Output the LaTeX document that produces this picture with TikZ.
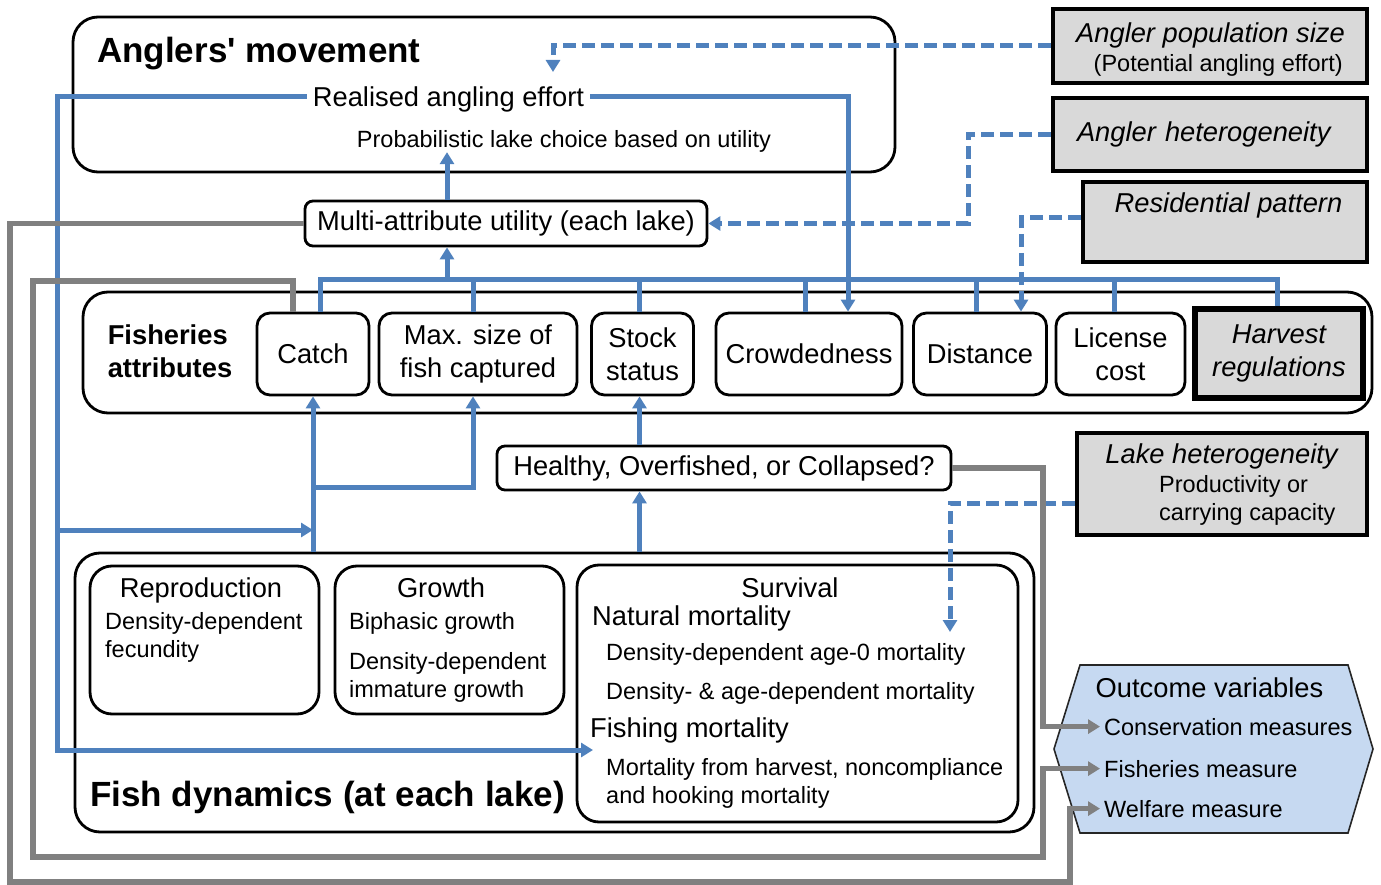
\documentclass[tikz,border=0pt]{standalone}
\usepackage{fontspec}
\setmainfont{Liberation Sans}
\usetikzlibrary{arrows.meta}

\definecolor{flowblue}{HTML}{4F81BD}
\definecolor{linegray}{HTML}{808080}
\definecolor{drivergray}{HTML}{D9D9D9}
\definecolor{outcomeblue}{HTML}{C6D9F1}

\newcommand{\txtbig}{\fontsize{35}{40}\selectfont\bfseries}
\newcommand{\txtmid}{\fontsize{27.3}{32.5}\selectfont}
\newcommand{\txtsmall}{\fontsize{23.5}{28}\selectfont}

\tikzset{
  mainframe/.style={draw, line width=2.8pt, rounded corners=25pt},
  procbox/.style={draw, line width=2.8pt, rounded corners=22pt},
  attrbox/.style={draw, line width=2.8pt, rounded corners=13pt, align=center,
    font=\txtmid, minimum height=82pt, inner sep=0pt},
  smallbox/.style={draw, line width=2.8pt, rounded corners=8pt, font=\txtmid, inner sep=0pt},
  driverbox/.style={draw, line width=4pt, fill=drivergray, align=center,
    font=\txtmid\itshape, inner sep=0pt},
  textlbl/.style={inner sep=0pt},
  blueline/.style={draw=flowblue, line width=5pt},
  blueflow/.style={blueline, -{Triangle[length=12pt,width=14pt]}},
  dashflow/.style={blueflow, dash pattern=on 13pt off 6pt},
  grayflow/.style={draw=linegray, line width=5.5pt, -{Triangle[length=12pt,width=14pt]}},
  outcomeshape/.style={draw=black!85, line width=1.6pt, fill=outcomeblue}
}

\begin{document}
\begin{tikzpicture}[x=1pt, y=-1pt]
\useasboundingbox (0,0) rectangle (1381,885);

%% Anglers' movement
\node[mainframe, minimum width=822pt, minimum height=155pt] (anglers) at (484,94.5) {};
\node[textlbl, font=\txtbig, anchor=base west] (anglerstitle) at (97,63) {Anglers\textquotesingle{} movement};
\node[textlbl, font=\txtmid, inner xsep=6pt, text depth=0pt] (effort) at (448.5,97) {Realised angling effort};
\node[textlbl, font=\txtsmall] (choice) at (564,141) {Probabilistic lake choice based on utility};

% utility of each lake
\node[smallbox, minimum width=402pt, minimum height=45pt] (utility) at (506,223.5) {Multi-attribute utility (each lake)};

%% Fisheries attributes
\node[mainframe, minimum width=1289pt, minimum height=121pt] (fishattr) at (727.5,352.5) {};
\node[textlbl, font=\txtmid\bfseries, align=left] (fishattrtitle) at (170,351) {Fisheries\\attributes};
\node[attrbox, minimum width=112pt] (catch) at (313,354) {Catch};
\node[attrbox, minimum width=198pt] (maxsize) at (478,354) {Max. size of\\fish captured};
\node[attrbox, minimum width=102pt] (stock) at (642.5,354) {Stock\\status};
\node[attrbox, minimum width=186pt] (crowd) at (809,354) {Crowdedness};
\node[attrbox, minimum width=133pt] (distance) at (980,354) {Distance};
\node[attrbox, minimum width=129pt] (license) at (1120.5,354) {License\\cost};
\node[driverbox, line width=5.5pt, minimum width=168pt, minimum height=89pt] (harvest) at (1279,353.5) {Harvest\\regulations};

% stock status
\node[smallbox, minimum width=454pt, minimum height=44pt] (status) at (724,468) {Healthy, Overfished, or Collapsed?};

%% External drivers
\node[driverbox, minimum width=314pt, minimum height=74pt] (angpop) at (1210,46) {};
\node[textlbl, font=\txtmid\itshape, anchor=base east] (angpoptxt) at (1345,43) {Angler population size};
\node[textlbl, font=\txtsmall, anchor=base east] (angpopsub) at (1343,72) {(Potential angling effort)};
\node[driverbox, minimum width=314pt, minimum height=73pt, text width=266pt, align=left] (anghet) at (1210,134.5) {Angler heterogeneity};
\node[driverbox, minimum width=284pt, minimum height=80pt] (respat) at (1225,222) {};
\node[textlbl, font=\txtmid\itshape, anchor=base] (respattxt) at (1228.5,213) {Residential pattern};
\node[driverbox, minimum width=290pt, minimum height=102pt] (lakehet) at (1222,484) {};
\node[textlbl, font=\txtmid\itshape, anchor=base] (lakehettxt) at (1221.5,463) {Lake heterogeneity};
\node[textlbl, font=\txtsmall, anchor=base west] (lakehetsub) at (1159,492) {Productivity or};
\node[textlbl, font=\txtsmall, anchor=base west] (lakehetsubb) at (1159,520) {carrying capacity};

%% Fish dynamics
\node[mainframe, minimum width=959pt, minimum height=279pt] (fishdyn) at (554.5,692.5) {};
\node[textlbl, font=\txtbig, anchor=base west] (fishdyntitle) at (90,806) {Fish dynamics (at each lake)};

% reproduction
\node[procbox, minimum width=229pt, minimum height=148pt] (repro) at (204.5,640) {};
\node[textlbl, font=\txtmid, anchor=base] (reprotitle) at (201,597) {Reproduction};
\node[textlbl, font=\txtsmall, anchor=base west] (reproa) at (105,629) {Density-dependent};
\node[textlbl, font=\txtsmall, anchor=base west] (reprob) at (105,657) {fecundity};

% growth
\node[procbox, minimum width=229pt, minimum height=148pt] (growth) at (449.5,640) {};
\node[textlbl, font=\txtmid, anchor=base] (growthtitle) at (441,597) {Growth};
\node[textlbl, font=\txtsmall, anchor=base west] (growtha) at (349,629) {Biphasic growth};
\node[textlbl, font=\txtsmall, anchor=base west] (growthb) at (349,669) {Density-dependent};
\node[textlbl, font=\txtsmall, anchor=base west] (growthc) at (349,697) {immature growth};

% survival
\node[procbox, minimum width=441pt, minimum height=257pt] (survival) at (797.5,693.5) {};
\node[textlbl, font=\txtmid, anchor=base] (survtitle) at (790,597) {Survival};
\node[textlbl, font=\txtmid, anchor=base west] (natmort) at (592,625) {Natural mortality};
\node[textlbl, font=\txtsmall, anchor=base west] (natmorta) at (606,660) {Density-dependent age-0 mortality};
\node[textlbl, font=\txtsmall, anchor=base west] (natmortb) at (606,699) {Density- \& age-dependent mortality};
\node[textlbl, font=\txtmid, anchor=base west] (fishmort) at (590,737) {Fishing mortality};
\node[textlbl, font=\txtsmall, anchor=base west] (fishmorta) at (606,775) {Mortality from harvest, noncompliance};
\node[textlbl, font=\txtsmall, anchor=base west] (fishmortb) at (606,803) {and hooking mortality};

%% Outcome variables
\draw[outcomeshape] (1080,665) -- (1348,665) -- (1373,749) -- (1348,833) -- (1080,833) -- (1054,749) -- cycle;
\node[textlbl, font=\txtmid, anchor=base] (outtitle) at (1209.5,697) {Outcome variables};
\node[textlbl, font=\txtsmall, anchor=base west, inner xsep=4pt] (cons) at (1100,735) {Conservation measures};
\node[textlbl, font=\txtsmall, anchor=base west, inner xsep=4pt] (fisheries) at (1100,777) {Fisheries measure};
\node[textlbl, font=\txtsmall, anchor=base west, inner xsep=4pt] (welfare) at (1100,817) {Welfare measure};

%% Connectors
\coordinate (bus) at (447,280);
\coordinate (effortin) at (553,72);
\coordinate (hetrail) at (968,0);
\coordinate (lakein) at (950,632);
\coordinate (effortrail) at (57,530);
\coordinate (railfoot) at (57,750);
\coordinate (fishin) at (593,750);
\coordinate (catchfork) at (313,487);
\coordinate (consrail) at (1043,0);
\coordinate (innerrail) at (33,281);
\coordinate (innerfoot) at (1043,857);
\coordinate (outerfoot) at (10,882);
\coordinate (welfrail) at (1070,0);

% attributes into utility
\draw[blueline] ([xshift=7pt]catch.north) |- (bus);
\draw[blueline] ([xshift=-5pt]maxsize.north) |- (bus);
\draw[blueline] ([xshift=-3pt]stock.north) |- (bus);
\draw[blueline] ([xshift=-4pt]crowd.north) |- (bus);
\draw[blueline] ([xshift=-4pt]distance.north) |- (bus);
\draw[blueline] ([xshift=-6pt]license.north) |- (bus);
\draw[blueline] ([xshift=-2pt]harvest.north) |- (bus);
\draw[blueflow] (bus) -- (bus |- utility.south);
\draw[blueflow] (bus |- utility.north) -- (bus |- choice.south);

% realised effort
\draw[blueflow] (effort.east) -| ([xshift=39pt]crowd.north);
\draw[blueflow] (effort.west) -| (railfoot) -- (fishin);
\draw[blueflow] (effortrail) -- (catch.south |- effortrail);

% fish dynamics into attributes
\draw[blueflow] (catch.south |- fishdyn.north) -- (catch.south);
\draw[blueflow] (catchfork) -| ([xshift=-5pt]maxsize.south);
\draw[blueflow] ([xshift=-3pt]stock.south |- fishdyn.north) -- ([xshift=-3pt]stock.south |- status.south);
\draw[blueflow] ([xshift=-3pt]stock.south |- status.north) -- ([xshift=-3pt]stock.south);

% drivers
\draw[dashflow] (angpop.west) -| (effortin);
\draw[dashflow] (anghet.west) -| (utility.east -| hetrail) -- (utility.east);
\draw[dashflow] ([yshift=4pt]respat.west) -| ([xshift=41pt]distance.north);
\draw[dashflow] ([yshift=-19pt]lakehet.west) -| (lakein);

% outcomes
\draw[grayflow] (status.east) -| (cons.west -| consrail) -- (cons.west);
\draw[grayflow] ([xshift=-20pt]catch.north) |- (innerrail) |- (innerfoot) |- (fisheries.west);
\draw[grayflow] (utility.west) -| (outerfoot) -| (welfare.west -| welfrail) -- (welfare.west);

\end{tikzpicture}
\end{document}
